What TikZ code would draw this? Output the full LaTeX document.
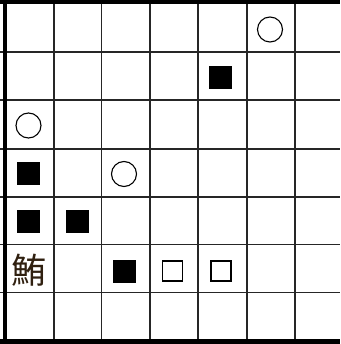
\documentclass[tikz,border=0pt]{standalone}
\usepackage{fontspec}
\newfontfamily\cjk{Noto Sans CJK JP}
\begin{document}
\begin{tikzpicture}[x=1pt,y=-1pt,
  gridline/.style={line width=1.7pt,black!85},
  frameline/.style={line width=4.2pt,black},
  stone/.style={circle,draw=black,line width=1.1pt,minimum size=25pt,inner sep=0pt},
  fillsq/.style={rectangle,fill=black,minimum size=23pt,inner sep=0pt},
  opensq/.style={rectangle,draw=black,line width=1.6pt,fill=white,minimum size=20pt,inner sep=0pt}]
\useasboundingbox (0,0) rectangle (340,344);
\fill[white] (0,0) rectangle (340,344);
% inner vertical lines
\foreach \x in {54,101.5,150,198,247,295}
  \draw[gridline] (\x,0) -- (\x,344);
% inner horizontal lines
\foreach \y in {52,100,149,197,244.5,292.5}
  \draw[gridline] (0,\y) -- (340,\y);
% frame: top, left, bottom
\draw[frameline] (0,2) -- (340,2);
\draw[frameline] (0,341.5) -- (340,341.5);
\draw[frameline] (4.8,0) -- (4.8,344);
% markers
\node[stone] (c1) at (270,29.5) {};
\node[fillsq] (f1) at (220.5,77.5) {};
\node[stone] (c2) at (28.5,125.5) {};
\node[fillsq] (f2) at (28.5,173.5) {};
\node[stone] (c3) at (124,174) {};
\node[fillsq] (f3) at (28.5,221) {};
\node[fillsq] (f4) at (77,221) {};
\node[fillsq] (f5) at (124.5,271) {};
\node[opensq] (o1) at (172.5,271) {};
\node[opensq] (o2) at (221,271) {};
\node[inner sep=0pt,font=\cjk\fontsize{35}{35}\selectfont,text=black!75!brown] (k) at (28.5,270) {鮪};
\end{tikzpicture}
\end{document}
